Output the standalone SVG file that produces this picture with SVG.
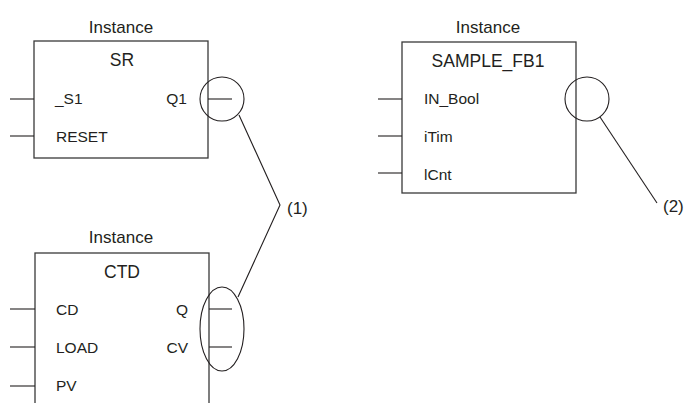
<svg xmlns="http://www.w3.org/2000/svg" width="685" height="403" viewBox="0 0 685 403">
<style>
  text { font-family: "Liberation Sans", Arial, sans-serif; fill: #231f20; }
  .inst { font-size: 17px; text-anchor: middle; }
  .title { font-size: 17.5px; text-anchor: middle; }
  .pin { font-size: 15.5px; }
  .pinr { font-size: 15.5px; text-anchor: end; }
  .lbl { font-size: 17px; }
  .box { fill: #ffffff; stroke: #3a3a3a; stroke-width: 1.3; }
  .line { fill: none; stroke: #231f20; stroke-width: 1.1; }
</style>
<rect width="685" height="403" fill="#ffffff"/>

<g id="node-sr">
  <text class="inst" x="121" y="33">Instance</text>
  <rect class="box" x="34" y="41" width="174" height="117"/>
  <text class="title" x="122" y="66">SR</text>
  <line class="line" x1="10" y1="99" x2="34" y2="99"/>
  <line class="line" x1="10" y1="136" x2="34" y2="136"/>
  <text class="pin" x="55" y="104">_S1</text>
  <text class="pin" x="56" y="142">RESET</text>
  <text class="pinr" x="187" y="104">Q1</text>
  <line class="line" x1="208" y1="99" x2="232" y2="99"/>
</g>

<g id="node-ctd">
  <text class="inst" x="121" y="243">Instance</text>
  <rect class="box" x="35" y="253" width="174" height="170"/>
  <text class="title" x="122" y="278">CTD</text>
  <line class="line" x1="10" y1="309" x2="35" y2="309"/>
  <line class="line" x1="10" y1="347" x2="35" y2="347"/>
  <line class="line" x1="10" y1="386" x2="35" y2="386"/>
  <text class="pin" x="56" y="315">CD</text>
  <text class="pin" x="56" y="353">LOAD</text>
  <text class="pin" x="56" y="391">PV</text>
  <text class="pinr" x="188" y="315">Q</text>
  <text class="pinr" x="188" y="353">CV</text>
  <line class="line" x1="209" y1="309" x2="232" y2="309"/>
  <line class="line" x1="209" y1="347" x2="232" y2="347"/>
</g>

<g id="node-sample-fb1">
  <text class="inst" x="488" y="33">Instance</text>
  <rect class="box" x="402" y="42" width="174" height="151"/>
  <text class="title" x="488" y="67">SAMPLE_FB1</text>
  <line class="line" x1="378" y1="99" x2="402" y2="99"/>
  <line class="line" x1="378" y1="136" x2="402" y2="136"/>
  <line class="line" x1="378" y1="173" x2="402" y2="173"/>
  <text class="pin" x="424" y="104">IN_Bool</text>
  <text class="pin" x="424" y="142">iTim</text>
  <text class="pin" x="424" y="180">lCnt</text>
</g>

<g id="connectors">
  <circle class="line" cx="222" cy="99" r="22"/>
  <ellipse class="line" cx="222" cy="329" rx="22" ry="42"/>
  <polyline class="line" points="239,115 280,205 238,297"/>
  <circle class="line" cx="587" cy="99" r="22"/>
  <line class="line" x1="600" y1="117" x2="657" y2="203"/>
</g>

<g id="callouts">
  <text class="lbl" x="287" y="214">(1)</text>
  <text class="lbl" x="663" y="212">(2)</text>
</g>
</svg>
